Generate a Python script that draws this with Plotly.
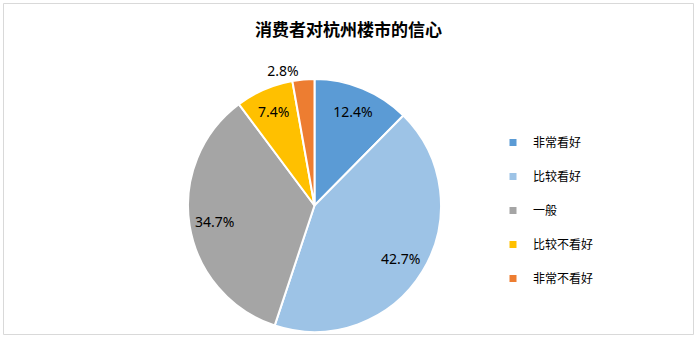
import plotly.graph_objects as go

categories = ["非常看好", "比较看好", "一般", "比较不看好", "非常不看好"]
values = [12.4, 42.7, 34.7, 7.4, 2.8]
colors = ["#5B9BD5", "#9DC3E6", "#A5A5A5", "#FFC000", "#ED7D31"]
ring_label = [True, True, True, False, False]
text_positions = ["inside", "inside", "inside", "inside", "outside"]
title_text = "消费者对杭州楼市的信心"

W, H = 697, 340
dom = dict(x=[188 / W, 441 / W], y=[(H - 332) / H, (H - 79) / H])
labels_txt = [f"{v:.1f}%" for v in values]

fig = go.Figure()
fig.add_trace(go.Pie(
    labels=categories, values=values, sort=False, direction="clockwise",
    rotation=0, marker=dict(colors=colors, line=dict(color="white", width=2)),
    text=[("" if r else t) for r, t in zip(ring_label, labels_txt)], textinfo="text",
    textposition=text_positions, insidetextorientation="horizontal",
    textfont=dict(family="Noto Sans", size=14, color="#000000"),
    showlegend=False, hoverinfo="label+percent", domain=dom,
))
fig.add_trace(go.Pie(
    labels=categories, values=values, sort=False, direction="clockwise",
    rotation=0, hole=0.6, marker=dict(colors=["rgba(0,0,0,0)"] * len(values), line=dict(width=0)),
    text=[(t if r else "") for r, t in zip(ring_label, labels_txt)], textinfo="text",
    textposition="inside", insidetextorientation="horizontal",
    textfont=dict(family="Noto Sans", size=14, color="#000000"),
    showlegend=False, hoverinfo="skip", domain=dom,
))
for i, (c, col) in enumerate(zip(categories, colors)):
    fig.add_trace(go.Scatter(
        x=[None], y=[None], mode="markers", name=c, legendgroup=f"g{i}",
        marker=dict(symbol="square", size=7, color=col), showlegend=True,
    ))
fig.update_layout(
    width=W, height=H, margin=dict(l=0, r=0, t=0, b=0),
    paper_bgcolor="white", plot_bgcolor="white",
    xaxis=dict(visible=False), yaxis=dict(visible=False),
    title=dict(text=f"<b>{title_text}</b>", x=0.5, xanchor="center", y=(H - 30) / H, yanchor="middle",
               font=dict(family="Noto Sans CJK SC", size=17, color="#000000")),
    legend=dict(x=493 / W, xanchor="left", y=(H - 128) / H, yanchor="top",
                font=dict(family="Noto Sans CJK SC", size=12, color="#000000"),
                tracegroupgap=15, bgcolor="rgba(0,0,0,0)"),
    shapes=[dict(type="rect", xref="paper", yref="paper", x0=3.5 / W, x1=693.5 / W,
                 y0=(H - 334.5) / H, y1=(H - 3.5) / H, line=dict(color="#D9D9D9", width=1))],
)
fig.write_html("out.html")
